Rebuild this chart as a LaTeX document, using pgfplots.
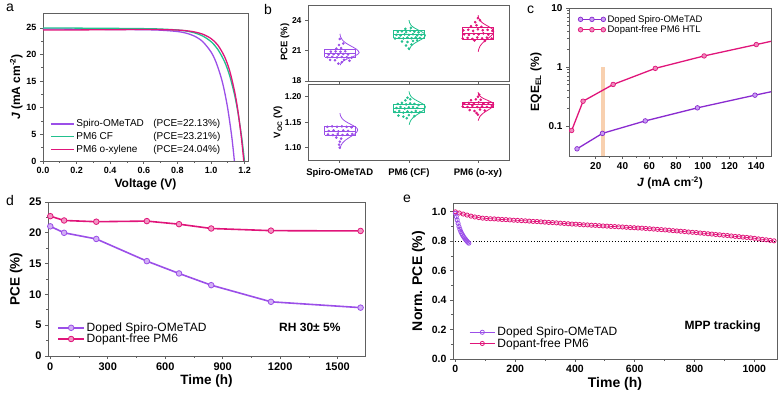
\documentclass[border=0pt]{standalone}
\usepackage{fontspec}
\setmainfont{Liberation Sans}
\usepackage{pgfplots}
\pgfplotsset{compat=1.18}

\definecolor{spiro}{HTML}{9B4FE8}
\definecolor{spirod}{HTML}{8A2BD0}
\definecolor{pm}{HTML}{E0157A}
\definecolor{cf}{HTML}{22C08E}
\definecolor{barc}{HTML}{F7CBA6}
\definecolor{axgray}{HTML}{606060}

\pgfplotsset{
  base/.style={scale only axis, anchor=south west,
    axis line style={axgray, line width=0.8pt},
    tick style={axgray, line width=0.7pt},
    tick align=outside, tick pos=left,
    major tick length=3pt, minor tick length=1.8pt,
    /pgf/number format/assume math mode=true,
    /pgf/number format/1000 sep={},
    legend cell align=left},
  longleg/.style={legend image code/.code={\draw[mark repeat=2,mark phase=2] plot coordinates {(0cm,0cm) (0.45cm,0cm) (0.9cm,0cm)};}},
  fix1/.style={/pgf/number format/fixed, /pgf/number format/fixed zerofill, /pgf/number format/precision=1},
  fix2/.style={/pgf/number format/fixed, /pgf/number format/fixed zerofill, /pgf/number format/precision=2},
}

\begin{document}
\begin{tikzpicture}
\useasboundingbox (0,0) rectangle (781pt,396pt);

% ---------------- panel a ----------------
\begin{axis}[base, at={(43pt,235pt)}, width=205pt, height=148pt,
  xmin=0, xmax=1.22, ymin=0, ymax=27.8,
  xtick={0,0.2,0.4,0.6,0.8,1.0,1.2}, ytick={0,5,10,15,20,25},
  minor x tick num=1, minor y tick num=1,
  xticklabel style={fix1},
  ticklabel style={font=\fontsize{9}{10}\selectfont\bfseries},
  xlabel={\textbf{Voltage (V)}}, ylabel={\textbf{\textit{J} (mA cm\textsuperscript{-2})}},
  label style={font=\fontsize{12}{14}\selectfont},
  xlabel style={yshift=2pt}, ylabel style={yshift=-3pt},
  legend style={at={(0.02,0.02)}, anchor=south west, draw=none, fill=none,
    font=\fontsize{10}{11}\selectfont, row sep=0pt},
  legend image code/.code={\draw plot coordinates {(0cm,0cm) (0.8cm,0cm)};}]
\addplot[spiro, line width=1.3pt, smooth] coordinates {(0,24.8)(0.2,24.76)(0.4,24.72)(0.6,24.66)(0.7,24.57)(0.8,24.32)(0.85,24.03)(0.9,23.48)(0.95,22.44)(1.0,20.48)(1.03,18.54)(1.06,15.70)(1.08,13.1)(1.1,9.73)(1.12,5.38)(1.13,2.75)(1.139,0)};
\addlegendentry{\makebox[77pt][l]{Spiro-OMeTAD}(PCE=22.13\%)}
\addplot[cf, line width=1.3pt, smooth] coordinates {(0,25.0)(0.2,24.96)(0.4,24.92)(0.6,24.86)(0.7,24.79)(0.8,24.61)(0.85,24.42)(0.9,24.09)(0.95,23.49)(1.0,22.42)(1.04,20.98)(1.08,18.69)(1.11,16.11)(1.14,12.43)(1.16,9.15)(1.18,5.0)(1.19,2.54)(1.199,0)};
\addlegendentry{\makebox[77pt][l]{PM6 CF}(PCE=23.21\%)}
\addplot[pm, line width=1.3pt, smooth] coordinates {(0,24.6)(0.2,24.62)(0.4,24.66)(0.6,24.7)(0.7,24.68)(0.8,24.6)(0.85,24.48)(0.9,24.25)(0.95,23.83)(1.0,23.0)(1.04,21.78)(1.08,19.63)(1.11,17.04)(1.14,13.1)(1.16,9.41)(1.18,4.53)(1.195,0)};
\addlegendentry{\makebox[77pt][l]{PM6 o-xylene}(PCE=24.04\%)}
\end{axis}

% ---------------- panel b (upper) ----------------
\begin{axis}[base, at={(308pt,315pt)}, width=201pt, height=76pt,
  xmin=0.54, xmax=3.45, ymin=18, ymax=25.5,
  xtick={1,2,3}, xticklabels={}, ytick={18,21,24},
  ticklabel style={font=\fontsize{8.5}{10}\selectfont\bfseries}]
\addplot[spiro, line width=0.6pt] coordinates {(0.78,20.33)(1.22,20.33)(1.22,21.15)(0.78,21.15)(0.78,20.33)};
\addplot[spiro, line width=0.5pt] coordinates {(0.78,20.7)(1.22,20.7)};
\addplot[cf, line width=0.6pt] coordinates {(1.78,22.2)(2.22,22.2)(2.22,23.0)(1.78,23.0)(1.78,22.2)};
\addplot[cf, line width=0.5pt] coordinates {(1.78,22.6)(2.22,22.6)};
\addplot[pm, line width=0.6pt] coordinates {(2.78,22.13)(3.22,22.13)(3.22,23.28)(2.78,23.28)(2.78,22.13)};
\addplot[pm, line width=0.5pt] coordinates {(2.78,22.75)(3.22,22.75)};
\addplot[spiro, line width=0.8pt, smooth] coordinates {(1.006,19.56)(1.012,19.675)(1.038,19.9)(1.091,20.125)(1.170,20.35)(1.247,20.575)(1.28,20.8)(1.247,21.11)(1.170,21.42)(1.091,21.73)(1.038,22.04)(1.012,22.35)(1.003,22.66)};
\addplot[cf, line width=0.8pt, smooth] coordinates {(2.006,21.04)(2.011,21.175)(2.032,21.44)(2.078,21.705)(2.146,21.97)(2.212,22.235)(2.24,22.5)(2.212,22.75)(2.146,23.0)(2.078,23.25)(2.032,23.5)(2.011,23.75)(2.003,24.0)};
\addplot[pm, line width=0.8pt, smooth] coordinates {(3.005,20.89)(3.010,21.075)(3.031,21.44)(3.075,21.805)(3.140,22.17)(3.203,22.535)(3.23,22.9)(3.203,23.165)(3.140,23.43)(3.075,23.695)(3.031,23.96)(3.010,24.225)(3.003,24.49)};
\addplot[only marks, mark=*, mark size=1.1pt, spiro] coordinates {(0.82,20.35)(0.89,20.38)(0.96,20.33)(1.03,20.37)(1.10,20.34)(1.17,20.3)(0.84,20.62)(0.91,20.65)(0.98,20.6)(1.05,20.66)(1.12,20.62)(0.87,20.9)(0.94,20.92)(1.01,20.88)(1.08,20.93)(0.95,21.2)(1.02,21.25)(0.99,21.55)(1.05,21.7)(1.0,22.15)(0.86,20.08)(0.93,20.05)(1.06,20.1)(1.14,20.0)(0.98,19.72)(1.03,19.85)};
\addplot[only marks, mark=*, mark size=1.1pt, cf] coordinates {(1.80,22.2)(1.86,22.25)(1.92,22.2)(1.98,22.28)(2.04,22.22)(2.10,22.3)(2.16,22.25)(1.82,22.55)(1.88,22.5)(1.94,22.6)(2.00,22.55)(2.06,22.62)(2.12,22.5)(2.18,22.55)(1.84,22.85)(1.90,22.9)(1.96,22.82)(2.02,22.95)(2.08,22.88)(2.14,22.8)(1.95,23.15)(2.03,23.25)(1.90,21.9)(1.98,21.85)(2.06,21.95)(1.96,21.5)(2.0,21.2)(2.04,21.6)(2.12,22.0)};
\addplot[only marks, mark=*, mark size=1.1pt, pm] coordinates {(2.78,22.2)(2.85,22.25)(2.92,22.15)(2.99,22.3)(3.06,22.2)(3.13,22.28)(3.2,22.2)(2.80,22.6)(2.87,22.55)(2.94,22.65)(3.01,22.6)(3.08,22.7)(3.15,22.58)(2.79,23.0)(2.86,23.05)(2.93,22.95)(3.0,23.1)(3.07,23.0)(3.14,23.05)(3.21,22.95)(2.9,23.4)(2.98,23.5)(3.05,23.35)(2.96,23.8)(3.03,24.0)(3.0,24.2)(2.95,22.0)(3.1,21.95)};
\end{axis}

% ---------------- panel b (lower) ----------------
\begin{axis}[base, at={(308pt,236pt)}, width=201pt, height=76pt,
  xmin=0.54, xmax=3.45, ymin=1.076, ymax=1.225,
  xtick={1,2,3}, xticklabels={Spiro-OMeTAD, PM6 (CF), PM6 (o-xy)},
  ytick={1.10,1.15,1.20},
  yticklabel style={fix2, font=\fontsize{8.5}{10}\selectfont\bfseries},
  xticklabel style={font=\fontsize{9.5}{11}\selectfont\bfseries, yshift=-2pt}]
\addplot[spiro, line width=0.6pt] coordinates {(0.78,1.125)(1.22,1.125)(1.22,1.1414)(0.78,1.1414)(0.78,1.125)};
\addplot[spiro, line width=0.5pt] coordinates {(0.78,1.133)(1.22,1.133)};
\addplot[cf, line width=0.6pt] coordinates {(1.78,1.169)(2.22,1.169)(2.22,1.1855)(1.78,1.1855)(1.78,1.169)};
\addplot[cf, line width=0.5pt] coordinates {(1.78,1.178)(2.22,1.178)};
\addplot[pm, line width=0.6pt] coordinates {(2.78,1.1796)(3.22,1.1796)(3.22,1.190)(2.78,1.190)(2.78,1.1796)};
\addplot[pm, line width=0.5pt] coordinates {(2.78,1.185)(3.22,1.185)};
\addplot[spiro, line width=0.8pt, smooth] coordinates {(1.006,1.0987)(1.011,1.102)(1.035,1.1086)(1.085,1.1152)(1.158,1.1218)(1.230,1.1284)(1.26,1.135)(1.230,1.1405)(1.158,1.146)(1.085,1.1515)(1.035,1.157)(1.011,1.1625)(1.003,1.168)};
\addplot[cf, line width=0.8pt, smooth] coordinates {(2.006,1.1451)(2.011,1.1483)(2.032,1.1546)(2.078,1.161)(2.146,1.1673)(2.212,1.1737)(2.24,1.18)(2.212,1.1851)(2.146,1.1902)(2.078,1.1953)(2.032,1.2004)(2.011,1.2055)(2.003,1.2106)};
\addplot[pm, line width=0.8pt, smooth] coordinates {(3.005,1.1531)(3.010,1.156)(3.031,1.1618)(3.075,1.1676)(3.140,1.1734)(3.203,1.1792)(3.23,1.185)(3.203,1.189)(3.140,1.193)(3.075,1.197)(3.031,1.201)(3.010,1.205)(3.003,1.209)};
\addplot[only marks, mark=*, mark size=1.1pt, spiro] coordinates {(0.82,1.141)(0.89,1.142)(0.96,1.141)(1.03,1.142)(1.10,1.141)(1.17,1.14)(0.84,1.133)(0.91,1.134)(0.98,1.132)(1.05,1.134)(1.12,1.133)(0.83,1.126)(0.90,1.125)(0.97,1.127)(1.04,1.125)(1.11,1.126)(1.18,1.127)(0.95,1.12)(1.02,1.118)(1.0,1.112)(0.99,1.106)(1.0,1.1)};
\addplot[only marks, mark=*, mark size=1.1pt, cf] coordinates {(1.80,1.17)(1.86,1.172)(1.92,1.169)(1.98,1.171)(2.04,1.17)(2.10,1.172)(2.16,1.17)(1.82,1.178)(1.88,1.18)(1.94,1.177)(2.00,1.179)(2.06,1.18)(2.12,1.178)(1.84,1.186)(1.90,1.188)(1.96,1.185)(2.02,1.187)(2.08,1.186)(2.14,1.184)(1.95,1.193)(2.02,1.195)(1.98,1.198)(1.85,1.163)(1.92,1.161)(2.0,1.164)(2.08,1.162)(1.97,1.158)};
\addplot[only marks, mark=*, mark size=1.1pt, pm] coordinates {(2.78,1.181)(2.85,1.18)(2.92,1.182)(2.99,1.18)(3.06,1.181)(3.13,1.18)(3.2,1.182)(2.80,1.187)(2.87,1.188)(2.94,1.186)(3.01,1.189)(3.08,1.187)(3.15,1.188)(2.9,1.193)(2.97,1.195)(3.04,1.194)(3.0,1.2)(3.02,1.204)(2.88,1.174)(2.95,1.172)(3.03,1.175)(3.1,1.173)(2.98,1.168)(3.0,1.165)};
\end{axis}
\node[rotate=90, font=\fontsize{9.5}{11}\selectfont\bfseries] at (285pt,354pt) {PCE (\%)};
\node[rotate=90, font=\fontsize{9.5}{11}\selectfont\bfseries] at (278pt,274pt) {V\textsubscript{OC} (V)};

% ---------------- panel c ----------------
\begin{axis}[base, at={(569pt,240pt)}, width=202pt, height=148pt,
  ymode=log, xmin=0, xmax=151, ymin=0.031, ymax=10,
  xtick={20,40,60,80,100,120,140}, minor x tick num=1,
  ytick={0.1,1,10}, yticklabels={0.1,1,10},
  ticklabel style={font=\fontsize{10}{11}\selectfont\bfseries},
  xlabel={\textbf{\textit{J} (mA cm\textsuperscript{-2})}}, ylabel={\textbf{EQE\textsubscript{EL} (\%)}},
  label style={font=\fontsize{12}{14}\selectfont},
  legend style={at={(0.03,0.98)}, anchor=north west, draw=none, fill=none,
    font=\fontsize{9.5}{11}\selectfont, row sep=-2pt},
  legend image code/.code={\draw[mark repeat=2,mark phase=2] plot coordinates {(0cm,0cm) (0.4cm,0cm) (0.8cm,0cm)};}]
\addplot[fill=barc, draw=none, fill opacity=0.9, forget plot] coordinates {(24,0.031)(26.6,0.031)(26.6,1)(24,1)};
\addplot[spirod, line width=1.3pt, mark=*, mark size=2.3pt, mark options={fill=spiro!55!white, draw=spirod, line width=0.7pt}, mark indices={1,2,3,4,5}] coordinates {(6,0.041)(25,0.075)(57,0.122)(96,0.203)(139,0.333)(160,0.42)};
\addlegendentry{Doped Spiro-OMeTAD}
\addplot[pm, line width=1.3pt, mark=*, mark size=2.3pt, mark options={fill=pm!50!white, draw=pm, line width=0.7pt}, mark indices={1,2,3,4,5,6}] coordinates {(2,0.084)(10.5,0.263)(33,0.506)(64.5,0.948)(101,1.54)(140,2.4)(160,3.02)};
\addlegendentry{Dopant-free PM6 HTL}
\end{axis}

% ---------------- panel d ----------------
\begin{axis}[base, at={(48pt,40pt)}, width=317pt, height=154pt,
  xmin=-12, xmax=1643, ymin=0, ymax=25,
  xtick={0,300,600,900,1200,1500}, ytick={0,5,10,15,20,25},
  minor x tick num=1, minor y tick num=1,
  ticklabel style={font=\fontsize{11}{12}\selectfont\bfseries},
  xlabel={\textbf{Time (h)}}, ylabel={\textbf{PCE (\%)}},
  label style={font=\fontsize{13.5}{15}\selectfont},
  xlabel style={yshift=2pt},
  legend style={at={(0.02,0.05)}, anchor=south west, draw=none, fill=none,
    font=\fontsize{12}{13}\selectfont, row sep=-3pt},
  longleg]
\addplot[spiro, line width=1.6pt, mark=*, mark size=2.8pt, mark options={fill=spiro!45!white, draw=spiro, line width=0.8pt}] coordinates {(0,21.05)(72,20.0)(240,19.0)(504,15.4)(672,13.4)(840,11.5)(1152,8.8)(1620,7.85)};
\addlegendentry{Doped Spiro-OMeTAD}
\addplot[pm, line width=1.6pt, mark=*, mark size=2.8pt, mark options={fill=pm!45!white, draw=pm, line width=0.8pt}] coordinates {(0,22.7)(72,22.0)(240,21.8)(504,21.9)(672,21.4)(840,20.7)(1152,20.35)(1620,20.3)};
\addlegendentry{Dopant-free PM6}
\node[font=\fontsize{12}{13}\selectfont\bfseries] at (axis cs:1355,4.7) {RH 30± 5\%};
\end{axis}

% ---------------- panel e ----------------
\begin{axis}[base, at={(453pt,37pt)}, width=324pt, height=156pt,
  xmin=-8, xmax=1076, ymin=0, ymax=1.06,
  xtick={0,200,400,600,800,1000}, ytick={0,0.2,0.4,0.6,0.8,1.0},
  minor x tick num=1, minor y tick num=1,
  yticklabel style={fix1},
  ticklabel style={font=\fontsize{10.5}{12}\selectfont\bfseries},
  xlabel={\textbf{Time (h)}}, ylabel={\textbf{Norm. PCE (\%)}},
  label style={font=\fontsize{14}{15}\selectfont},
  xlabel style={yshift=2pt},
  legend style={at={(0.04,0.04)}, anchor=south west, draw=none, fill=none,
    font=\fontsize{12}{13}\selectfont, row sep=-3pt},
  longleg]
\addplot[black, dotted, line width=0.9pt, forget plot] coordinates {(0,0.8)(1070,0.8)};
\addplot[pm, line width=0.7pt, mark=o, mark size=2.1pt, mark options={fill=white, line width=0.8pt}, forget plot] coordinates {
(0,1.000)(13,0.992)(26,0.985)(39,0.978)(52,0.971)(65,0.965)(78,0.961)(91,0.957)(104,0.955)(117,0.953)
(130,0.952)(143,0.950)(156,0.948)(169,0.947)(182,0.945)(195,0.943)(208,0.942)(221,0.940)(234,0.939)(247,0.937)
(260,0.935)(273,0.934)(286,0.932)(299,0.930)(312,0.928)(325,0.927)(338,0.925)(351,0.923)(364,0.921)(377,0.919)
(390,0.917)(403,0.916)(416,0.914)(429,0.912)(442,0.911)(455,0.909)(468,0.908)(481,0.906)(494,0.904)(507,0.903)
(520,0.901)(533,0.900)(546,0.898)(559,0.897)(572,0.895)(585,0.893)(598,0.892)(611,0.890)(624,0.889)(637,0.887)
(650,0.885)(663,0.883)(676,0.881)(689,0.879)(702,0.877)(715,0.875)(728,0.872)(741,0.870)(754,0.868)(767,0.866)
(780,0.863)(793,0.861)(806,0.859)(819,0.856)(832,0.854)(845,0.851)(858,0.849)(871,0.846)(884,0.844)(897,0.841)
(910,0.839)(923,0.836)(936,0.833)(949,0.831)(962,0.828)(975,0.826)(988,0.823)(1001,0.820)(1014,0.816)(1027,0.813)
(1040,0.810)(1053,0.806)(1066,0.803)};
\addplot[spiro, line width=0.7pt, mark=o, mark size=2.1pt, mark options={fill=white, line width=0.8pt}] coordinates {(0,0.99)(3,0.967)(6,0.945)(9,0.922)(12,0.90)(15,0.882)(18,0.866)(21,0.853)(24,0.842)(27,0.832)(30,0.823)(33,0.815)(36,0.807)(39,0.80)(42,0.793)(45,0.787)};
\addlegendentry{Doped Spiro-OMeTAD}
\addlegendimage{pm, line width=0.7pt, mark=o, mark size=2.1pt, mark options={fill=white, line width=0.8pt}}
\addlegendentry{Dopant-free PM6}
\node[font=\fontsize{12}{13}\selectfont\bfseries] at (axis cs:894,0.222) {MPP tracking};
\end{axis}

\node[anchor=north west, font=\fontsize{14}{15}\selectfont, inner sep=0pt] at (6pt,392pt) {a};
\node[anchor=north west, font=\fontsize{14}{15}\selectfont, inner sep=0pt] at (264pt,392pt) {b};
\node[anchor=north west, font=\fontsize{14}{15}\selectfont, inner sep=0pt] at (527pt,390pt) {c};
\node[anchor=north west, font=\fontsize{14}{15}\selectfont, inner sep=0pt] at (6pt,201pt) {d};
\node[anchor=north west, font=\fontsize{14}{15}\selectfont, inner sep=0pt] at (403pt,201pt) {e};
\end{tikzpicture}
\end{document}
